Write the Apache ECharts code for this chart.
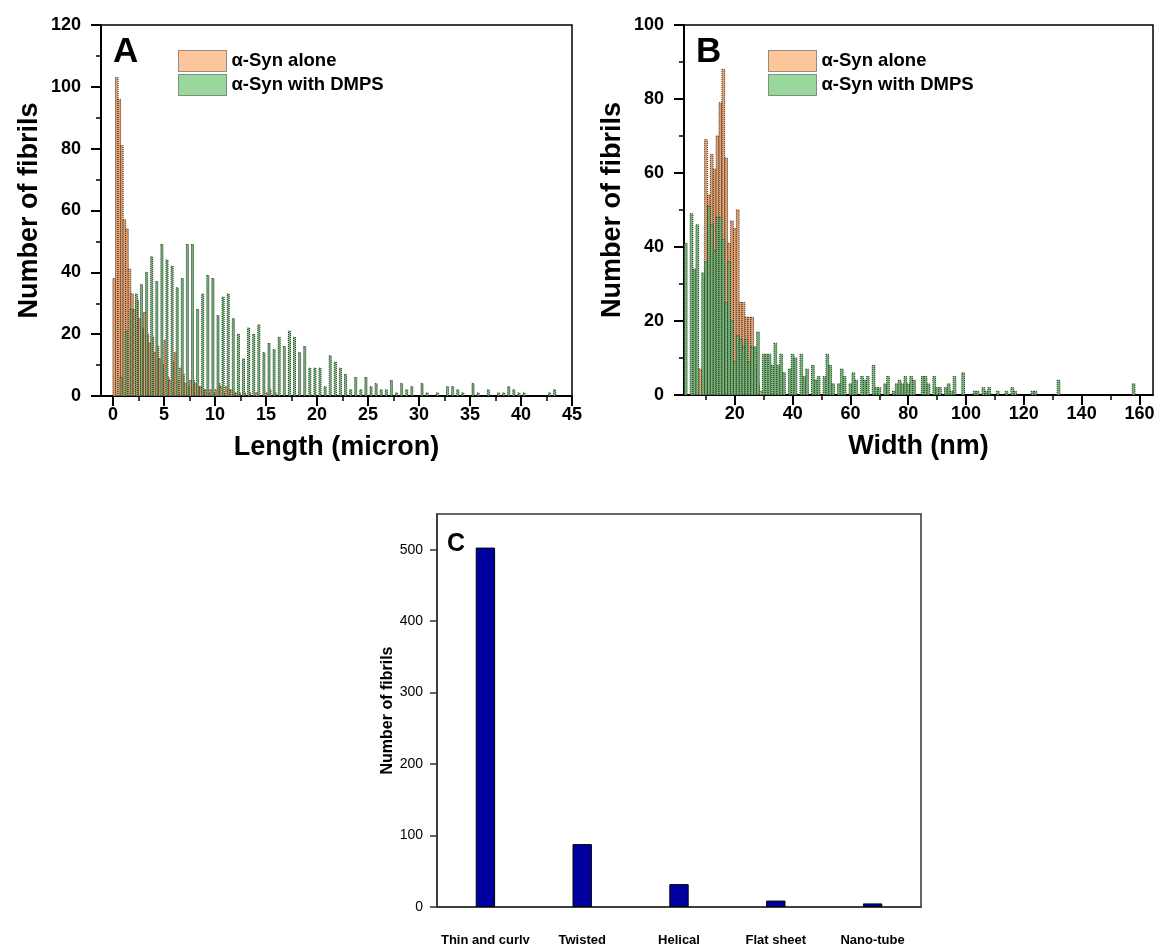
<!DOCTYPE html>
<html><head><meta charset="utf-8">
<script src="https://cdn.jsdelivr.net/npm/echarts@6/dist/echarts.min.js"></script>
<style>html,body{margin:0;padding:0;background:#fff}#c{width:1160px;height:944px}</style>
</head><body><div id="c"></div>
<script>
const FONT = '"Liberation Sans", Arial, Helvetica, sans-serif';
const seriesNames = ['α-Syn alone', 'α-Syn with DMPS'];

// ---- Panel A: length histogram (micron) ----
const lengthAloneStart = 0.125, lengthAloneStep = 0.25;
const lengthAlone = [38,103,96,81,57,54,41,33,28,31,25,22,27,20,17,19,14,16,12,10,
  18,6,5,11,14,5,9,7,4,3,5,5,4,3,3,2,2,1,2,1,
  2,4,3,1,3,2,2,1,1,1,0,1,0,1,0,0,1,0,0,0,1,2,0,1];
const lengthDmpsStart = 0.8, lengthDmpsStep = 0.5;
const lengthDmps = [6,21,28,33,36,40,45,37,49,44,
  42,35,38,49,49,28,33,39,38,26,
  32,33,25,20,12,22,20,23,14,17,
  15,19,16,21,19,14,16,9,9,9,
  3,13,11,9,7,2,6,2,6,3,
  4,2,2,5,1,4,2,3,0,4,
  1,0,1,0,3,3,2,1,0,4,
  1,0,2,0,1,1,3,2,1,1,
  0,0,0,0,1,2];
const lengthTicks = [0,5,10,15,20,25,30,35,40,45];
const lengthMinorTicks = [2.5,7.5,12.5,17.5,22.5,27.5,32.5,37.5,42.5];

// ---- Panel B: width histogram (nm), 1 nm bins starting at 3 nm ----
const widthStart = 3, widthStep = 1;
const widthAlone = [0,0,0,0,0,7,0,69,54,65,
  61,70,79,88,64,41,47,45,50,25,
  25,21,21,21,8,3,1];
const widthDmps = [41,0,49,34,46,0,33,36,51,46,
  39,48,48,42,25,36,20,9,16,15,
  13,15,9,13,13,17,0,11,11,11,
  8,14,8,11,6,0,7,11,10,0,
  11,5,7,0,8,4,5,0,5,11,
  8,3,0,3,7,5,0,3,6,4,
  0,5,4,5,0,8,2,2,0,3,
  5,0,1,3,4,3,5,3,5,4,
  0,0,5,5,3,0,5,2,2,0,
  2,3,1,5,0,0,6,0,0,0,
  1,1,0,2,1,2,0,0,1,0,
  0,1,0,2,1,0,0,0,0,0,
  1,1,0,0,0,0,0,0,0,4,
  0,0,0,0,0,0,0,0,0,0,
  0,0,0,0,0,0,0,0,0,0,
  0,0,0,0,0,3];
const widthTicks = [20,40,60,80,100,120,140,160];
const widthMinorTicks = [10,30,50,70,90,110,130,150];

// ---- Panel C: morphology counts ----
const morphCategories = ['Thin and curly', 'Twisted', 'Helical', 'Flat sheet', 'Nano-tube'];
const morphCounts = [503, 88, 32, 9, 5];
const morphTicks = [0,100,200,300,400,500];

const ORANGE = '#FCC69A', GREEN = '#9AD79C';
const ORANGE_BAR = { fill: '#E2A272', stroke: '#3b2412' };
const GREEN_BAR = { fill: '#76B478', stroke: '#1a321b' };

function toPairs(start, step, vals) { return vals.map((v, i) => [start + i * step, v]); }

function histItem(barW, look) {
  return function (params, api) {
    const x = api.value(0), y = api.value(1);
    if (!y) return null;
    const p0 = api.coord([x - barW / 2, y]);
    const p1 = api.coord([x + barW / 2, 0]);
    return {
      type: 'rect',
      shape: { x: p0[0], y: p0[1], width: p1[0] - p0[0], height: p1[1] - p0[1] },
      style: { fill: look.fill, stroke: look.stroke, lineWidth: 1, lineDash: [1, 1] }
    };
  };
}

function histSeries(name, gi, data, barW, color, look) {
  return {
    type: 'custom', name: name, xAxisIndex: gi * 2, yAxisIndex: gi, clip: true,
    itemStyle: { color: color },
    encode: { x: 0, y: 1 },
    data: data, renderItem: histItem(barW, look), silent: true
  };
}

const bold = (size) => ({ fontFamily: FONT, fontWeight: 'bold', fontSize: size, color: '#000' });

function mainX(gi, min, max, ticks, name) {
  return {
    type: 'value', gridIndex: gi, position: 'bottom', min: min, max: max,
    axisLine: { onZero: false, lineStyle: { color: '#000', width: 2 } },
    axisTick: { customValues: ticks, length: 10, lineStyle: { color: '#000', width: 2 } },
    axisLabel: Object.assign({ customValues: ticks, margin: 10 }, bold(18)),
    splitLine: { show: false },
    name: name, nameLocation: 'middle', nameGap: 38, nameTextStyle: bold(27)
  };
}
function minorX(gi, min, max, ticks) {
  return {
    type: 'value', gridIndex: gi, position: 'bottom', min: min, max: max,
    axisLine: { show: false, onZero: false },
    axisTick: { customValues: ticks, length: 5, lineStyle: { color: '#000', width: 1.5 } },
    axisLabel: { show: false }, splitLine: { show: false }
  };
}
function histY(gi, max) {
  return {
    type: 'value', gridIndex: gi, min: 0, max: max, interval: 20,
    axisLine: { show: true, onZero: false, lineStyle: { color: '#000', width: 2 } },
    axisTick: { show: true, length: 10, lineStyle: { color: '#000', width: 2 } },
    minorTick: { show: true, splitNumber: 2, length: 5, lineStyle: { color: '#000', width: 1.5 } },
    axisLabel: Object.assign({ margin: 20 }, bold(18)),
    splitLine: { show: false },
    name: 'Number of fibrils', nameLocation: 'middle', nameGap: 58, nameTextStyle: bold(27)
  };
}
function legendAt(left) {
  return {
    left: left, top: 50, orient: 'vertical', padding: 0, itemGap: 2,
    itemWidth: 48, itemHeight: 21, icon: 'rect', selectedMode: false,
    data: seriesNames,
    itemStyle: { borderColor: '#333', borderWidth: 1, borderType: 'dotted' },
    textStyle: bold(18.5)
  };
}
function gridAt(left, top, width, height, border) {
  return {
    left: left, top: top, width: width, height: height, outerBoundsMode: 'none', containLabel: false,
    show: true, borderColor: border, borderWidth: 1.5, backgroundColor: 'transparent'
  };
}

const option = {
  animation: false,
  backgroundColor: '#fff',
  title: [
    { text: 'A', left: 113, top: 35, padding: 0, textStyle: bold(35) },
    { text: 'B', left: 696, top: 35, padding: 0, textStyle: bold(35) },
    { text: 'C', left: 447, top: 532, padding: 0, textStyle: bold(25) }
  ],
  legend: [legendAt(178), legendAt(768)],
  grid: [
    gridAt(101, 25, 471, 371, '#000'),
    gridAt(684, 25, 469, 370, '#000'),
    gridAt(437, 514, 484, 393, '#333')
  ],
  xAxis: [
    mainX(0, -1.17, 45, lengthTicks, 'Length (micron)'),
    minorX(0, -1.17, 45, lengthMinorTicks),
    mainX(1, 2.4, 164.7, widthTicks, 'Width (nm)'),
    minorX(1, 2.4, 164.7, widthMinorTicks),
    {
      type: 'category', gridIndex: 2, data: morphCategories,
      axisLine: { lineStyle: { color: '#333', width: 1.5 } },
      axisTick: { alignWithLabel: true, length: 7, lineStyle: { color: '#333', width: 1.5 } },
      axisLabel: Object.assign({ margin: 27, interval: 0 }, bold(13))
    }
  ],
  yAxis: [
    histY(0, 120),
    histY(1, 100),
    {
      type: 'value', gridIndex: 2, min: 0, max: 550,
      axisLine: { show: true, onZero: false, lineStyle: { color: '#333', width: 1.5 } },
      axisTick: { show: true, customValues: morphTicks, length: 7, lineStyle: { color: '#333', width: 1.5 } },
      axisLabel: { customValues: morphTicks, margin: 14, fontFamily: FONT, fontSize: 14, color: '#000' },
      splitLine: { show: false },
      name: 'Number of fibrils', nameLocation: 'middle', nameGap: 37, nameTextStyle: bold(16)
    }
  ],
  series: [
    histSeries(seriesNames[0], 0, toPairs(lengthAloneStart, lengthAloneStep, lengthAlone), 0.25, ORANGE, ORANGE_BAR),
    histSeries(seriesNames[1], 0, toPairs(lengthDmpsStart, lengthDmpsStep, lengthDmps), 0.2, GREEN, GREEN_BAR),
    histSeries(seriesNames[0], 1, toPairs(widthStart, widthStep, widthAlone), 0.93, ORANGE, ORANGE_BAR),
    histSeries(seriesNames[1], 1, toPairs(widthStart, widthStep, widthDmps), 0.93, GREEN, GREEN_BAR),
    {
      type: 'bar', xAxisIndex: 4, yAxisIndex: 2, data: morphCounts, barWidth: '20%',
      itemStyle: { color: '#0000A0', borderColor: '#000', borderWidth: 1 }, silent: true
    }
  ]
};

const chart = echarts.init(document.getElementById('c'), null, { renderer: 'canvas' });
chart.setOption(option);
</script>
</body></html>
